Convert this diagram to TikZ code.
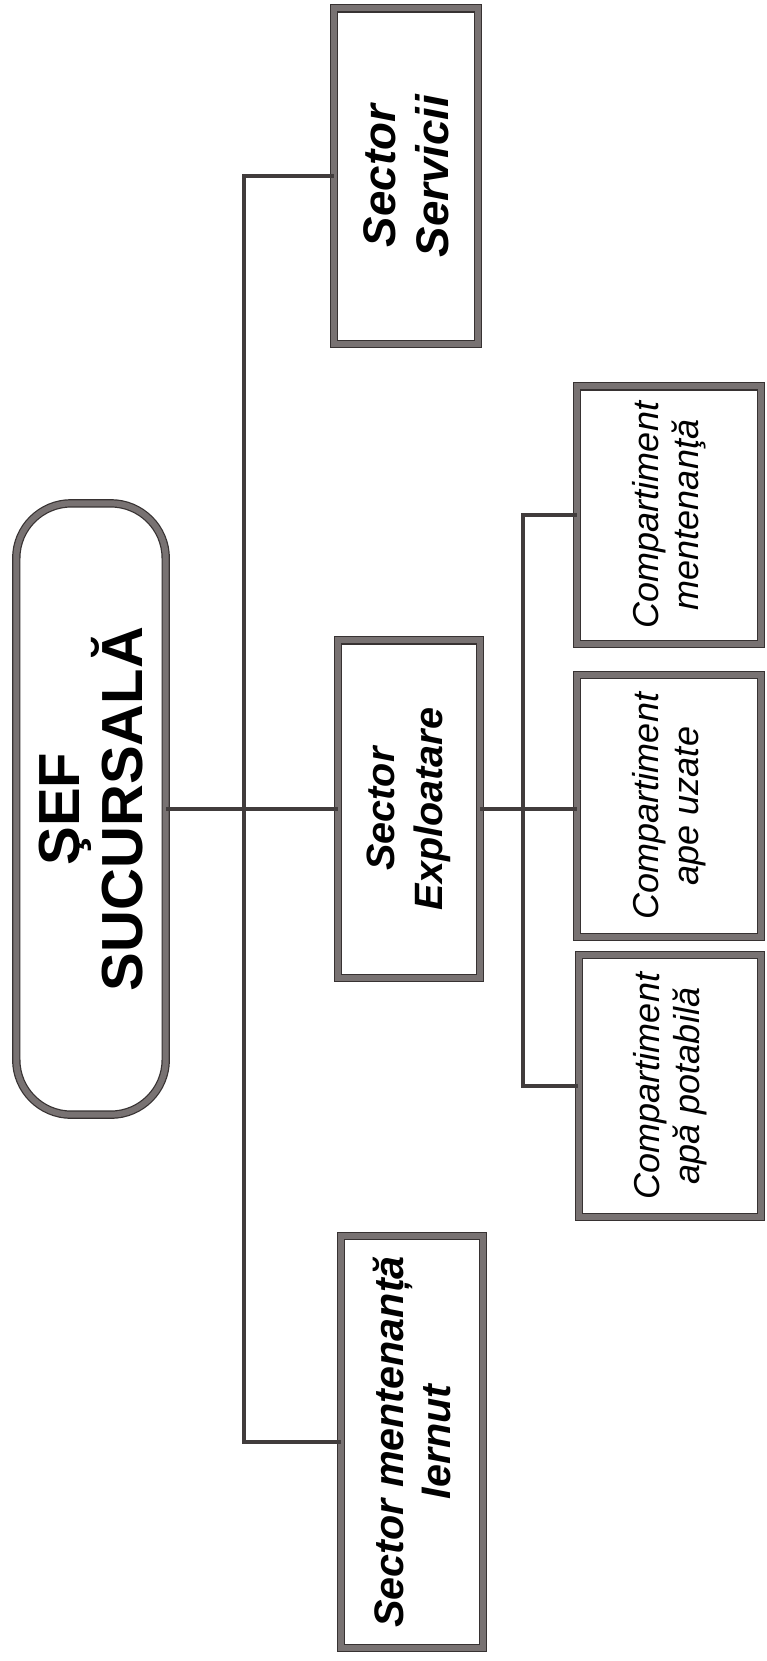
\documentclass[tikz,border=0pt]{standalone}
\usepackage{fontspec}
\setmainfont{Liberation Sans}
\usetikzlibrary{calc}
\definecolor{boxgray}{RGB}{120,114,114}
\definecolor{edgegray}{RGB}{55,50,50}
\tikzset{link/.style={draw=edgegray!85!boxgray, line width=2.2pt}}

\begin{document}
\begin{tikzpicture}[x=0.02cm,y=-0.02cm,
    frame/.style={rectangle, rotate=90, draw=edgegray, line width=0.7pt,
                  double=boxgray, double distance=3.4pt, fill=white,
                  align=center, inner sep=2pt},
    chief/.style={frame, rounded corners=1.1cm,
                  font=\bfseries\fontsize{33}{36}\selectfont},
    sector/.style={frame, font=\bfseries\itshape\fontsize{22.5}{27}\selectfont},
    compart/.style={frame, font=\itshape\fontsize{20.5}{22.5}\selectfont}]
  \useasboundingbox (0,0) rectangle (767,1661);

  \node[chief, minimum width=12.23cm, minimum height=2.99cm] (sef) at (91,809) {ŞEF\\SUCURSALĂ};

  \node[sector, font=\bfseries\itshape\fontsize{26}{30}\selectfont,
        minimum width=6.71cm, minimum height=2.87cm] (serv) at (406,176) {Sector\\Servicii};
  \node[sector, minimum width=6.75cm, minimum height=2.83cm] (expl) at (409,809) {Sector\\Exploatare};
  \node[sector, font=\bfseries\itshape\fontsize{23.5}{27}\selectfont,
        minimum width=8.25cm, minimum height=2.83cm] (iern) at (412,1442) {Sector mentenanță\\Iernut};

  \node[compart, minimum width=5.15cm, minimum height=3.67cm] (cment) at (669,515) {Compartiment\\mentenanţă};
  \node[compart, minimum width=5.25cm, minimum height=3.67cm] (cuz) at (669,806) {Compartiment\\ape uzate};
  \node[compart, minimum width=5.25cm, minimum height=3.65cm] (cpot) at (670,1086) {Compartiment\\apă potabilă};

  % trunks
  \coordinate (tk) at (244,809);
  \coordinate (stk) at (523,809);

  \draw[link] (sef.south) -- (expl.north);
  \draw[link] (serv.north) -| (tk) |- (iern.north);
  \draw[link] (expl.south) -- (expl.south -| cuz.north);
  \draw[link] (cment.north) -| (stk) |- (cpot.north);
\end{tikzpicture}
\end{document}
